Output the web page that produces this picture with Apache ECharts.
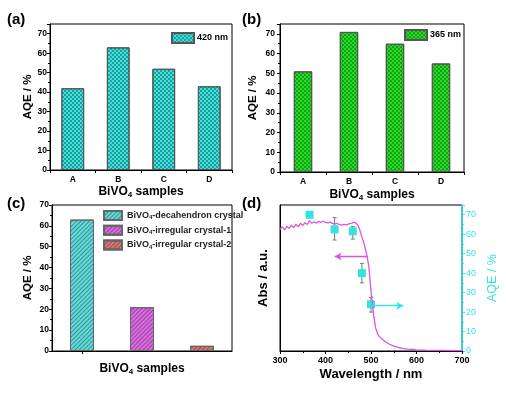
<!DOCTYPE html>
<html>
<head>
<meta charset="utf-8">
<script src="https://cdn.jsdelivr.net/npm/echarts@6/dist/echarts.min.js"></script>
<style>
html,body{margin:0;padding:0;background:#fff}
#main{width:506px;height:396px}
</style>
</head>
<body>
<div id="main"></div>
<script>
// panel a / b : AQE of samples A-D
var samples = ['A', 'B', 'C', 'D'];
var aqe420 = [42, 63, 52, 43];
var aqe365 = [51, 71, 65, 55];
// panel c
var crystalNames = ['BiVO4-decahendron crystal', 'BiVO4-irregular crystal-1', 'BiVO4-irregular crystal-2'];
var crystalAqe = [63, 21, 2.5];
// panel d : absorption spectrum (left, a.u.) and AQE points (right, %)
var absWl = [300,305,310,315,320,325,330,335,340,345,350,355,360,365,370,375,380,385,390,395,400,405,410,415,420,425,430,435,440,445,450,455,460,465,470,475,480,485,490,495,500,505,510,515,520,525,530,540,550,560,570,580,590,600,620,640,660,680,700];
var absVal = [62.5,63.8,62.2,64.0,63.0,64.6,63.4,65.2,63.8,65.6,64.4,65.9,65.0,67.0,65.6,66.4,65.7,66.6,66.0,66.8,66.1,65.8,66.2,65.6,65.2,65.6,65.0,64.7,65.0,64.8,65.2,65.5,65.9,66.0,65.0,62.5,58.5,55.0,50.0,44.0,31.0,20.0,12.0,8.5,7.0,6.0,5.0,3.6,2.5,1.8,1.3,1.0,0.8,0.6,0.4,0.3,0.3,0.2,0.2];
var aqeWl = [365, 420, 460, 480, 500];
var aqeVal = [70, 62.5, 61.5, 40, 24];
var aqeLow = [68.5, 57, 57.5, 35, 20];
var aqeHigh = [71.5, 68.5, 64, 45, 27.5];
var arrowAbs = [[493, 48.5], [420, 48.5]];
var arrowAqe = [[502, 23.3], [571, 23.3]];

var FONT = 'Liberation Sans';
var CYAN = '#33e3e3';
var subRich = {
    s: { fontSize: 8, fontWeight: 'bold', fontFamily: FONT, color: '#000', padding: [7, 0, 0, 0] }
};
function nameStyle(size, color) {
    return { fontSize: size, fontWeight: 'bold', fontFamily: FONT, color: color || '#000', rich: subRich };
}
var tickLabel = { fontSize: 8.5, fontWeight: 'bold', fontFamily: FONT, color: '#000' };
var titleFont = { fontSize: 15, fontWeight: 'bold', fontFamily: FONT, color: '#000' };

var checkerA = { symbol: 'rect', symbolSize: 1, dashArrayX: [[2, 2], [0, 2, 2, 0]], dashArrayY: [2, 0], color: 'rgba(0,80,80,0.45)' };
var checkerB = { symbol: 'rect', symbolSize: 1, dashArrayX: [[2, 2], [0, 2, 2, 0]], dashArrayY: [2, 0], color: 'rgba(0,70,0,0.4)' };
var stripes = { symbol: 'rect', symbolSize: 1, dashArrayX: [1, 0], dashArrayY: [1, 2], rotation: -Math.PI / 4, color: 'rgba(60,60,60,0.5)' };

var crystalColors = ['#5cdcdc', '#e066e8', '#e07474'];
var crystalSeries = crystalNames.map(function (n, i) {
    var d = crystalAqe.map(function (v, j) { return j === i ? v : '-'; });
    return {
        name: n, type: 'bar', xAxisIndex: 2, yAxisIndex: 2, stack: 'c', barWidth: '40%',
        itemStyle: { color: crystalColors[i], borderColor: '#666', borderWidth: 1, decal: stripes },
        data: d
    };
});

function catAxis(grid, data, nameGap, showLabel) {
    return {
        type: 'category', gridIndex: grid, data: data,
        name: 'BiVO{s|4} samples', nameLocation: 'middle', nameGap: nameGap,
        nameTextStyle: nameStyle(12),
        axisLine: { lineStyle: { color: '#000' } },
        axisTick: { show: true, length: 3, alignWithLabel: !showLabel, lineStyle: { color: '#000' } },
        axisLabel: { show: showLabel, margin: 5, textStyle: tickLabel }
    };
}
function aqeAxis(grid, max, nameGap, margin) {
    return {
        type: 'value', gridIndex: grid, min: 0, max: max, interval: 10,
        name: 'AQE / %', nameLocation: 'middle', nameGap: nameGap,
        nameTextStyle: nameStyle(11.5),
        axisLine: { show: true, lineStyle: { color: '#000' } },
        axisTick: { show: true, length: 3, lineStyle: { color: '#000' } },
        minorTick: { show: true, splitNumber: 2, length: 2, lineStyle: { color: '#000' } },
        axisLabel: { margin: margin, showMaxLabel: max === 70, fontSize: 8.5, fontWeight: 'bold', fontFamily: FONT, color: '#000' },
        splitLine: { show: false }
    };
}

var mychart = echarts.init(document.getElementById('main'));

var option = {
    backgroundColor: '#fff',
    animation: false,
    title: [
        { text: '(a)', left: 7, top: 12, padding: 0, textStyle: titleFont },
        { text: '(b)', left: 242, top: 12, padding: 0, textStyle: titleFont },
        { text: '(c)', left: 7, top: 196, padding: 0, textStyle: titleFont },
        { text: '(d)', left: 242, top: 196, padding: 0, textStyle: titleFont }
    ],
    legend: [
        { data: ['420 nm'], left: 171, top: 32, padding: 0, icon: 'rect', itemWidth: 22, itemHeight: 10,
          textStyle: { fontSize: 9, fontWeight: 'bold', fontFamily: FONT, color: '#000', padding: [0, 0, 0, -2] } },
        { data: ['365 nm'], left: 404, top: 29, padding: 0, icon: 'rect', itemWidth: 22, itemHeight: 10,
          textStyle: { fontSize: 9, fontWeight: 'bold', fontFamily: FONT, color: '#000', padding: [0, 0, 0, -2] } },
        { data: crystalNames, orient: 'vertical', left: 103, top: 210, padding: 0, icon: 'rect',
          itemWidth: 18, itemHeight: 9, itemGap: 3.7,
          formatter: function (n) { return n.replace('BiVO4', 'BiVO{s|4}'); },
          textStyle: { fontSize: 9, fontWeight: 'bold', fontFamily: FONT, color: '#222',
              rich: { s: { fontSize: 6, fontWeight: 'bold', fontFamily: FONT, color: '#222', padding: [4, 0, 0, 0] } } } }
    ],
    grid: [
        { left: 50, top: 24, width: 182, height: 146, show: true, borderColor: '#000', borderWidth: 1, backgroundColor: 'transparent' },
        { left: 280, top: 24, width: 184, height: 148, show: true, borderColor: '#000', borderWidth: 1, backgroundColor: 'transparent' },
        { left: 52, top: 205, width: 180, height: 146, show: true, borderColor: '#000', borderWidth: 1, backgroundColor: 'transparent' },
        { left: 280, top: 205, width: 182, height: 146, show: true, borderColor: '#000', borderWidth: 1, backgroundColor: 'transparent' }
    ],
    xAxis: [
        catAxis(0, samples, 14, true),
        catAxis(1, samples, 15, true),
        catAxis(2, crystalNames, 10, false),
        {
            type: 'value', gridIndex: 3, min: 300, max: 700, interval: 100,
            name: 'Wavelength / nm', nameLocation: 'middle', nameGap: 17,
            nameTextStyle: nameStyle(13),
            axisLine: { lineStyle: { color: '#000' } },
            axisTick: { show: true, length: 3, lineStyle: { color: '#000' } },
            minorTick: { show: true, splitNumber: 2, length: 2, lineStyle: { color: '#000' } },
            axisLabel: { margin: 5, fontSize: 9, fontWeight: 'bold', fontFamily: FONT, color: '#000' },
            splitLine: { show: false }
        }
    ],
    yAxis: [
        aqeAxis(0, 75, 16, 3),
        aqeAxis(1, 75, 21, 5),
        aqeAxis(2, 70, 18, 3),
        {
            type: 'value', gridIndex: 3, min: 0, max: 75, interval: 10,
            name: 'Abs / a.u.', nameLocation: 'middle', nameGap: 10,
            nameTextStyle: nameStyle(13),
            axisLine: { show: true, lineStyle: { color: '#000' } },
            axisTick: { show: false }, axisLabel: { show: false }, splitLine: { show: false }
        },
        {
            type: 'value', gridIndex: 3, position: 'right', min: 0, max: 75, interval: 10,
            name: 'AQE / %', nameLocation: 'middle', nameGap: 24, nameRotate: 90,
            nameTextStyle: { fontSize: 12.5, fontFamily: FONT, color: CYAN },
            axisLine: { show: true, lineStyle: { color: CYAN, width: 1.5 } },
            axisTick: { show: true, length: 3, lineStyle: { color: CYAN } },
            minorTick: { show: true, splitNumber: 2, length: 2, lineStyle: { color: CYAN } },
            axisLabel: { margin: 4, showMaxLabel: false, fontSize: 9, fontFamily: FONT, color: CYAN },
            splitLine: { show: false }
        }
    ],
    series: [
        {
            name: '420 nm', type: 'bar', xAxisIndex: 0, yAxisIndex: 0, barWidth: '50%',
            itemStyle: { color: '#3fe0da', borderColor: '#555', borderWidth: 1, decal: checkerA },
            data: aqe420
        },
        {
            name: '365 nm', type: 'bar', xAxisIndex: 1, yAxisIndex: 1, barWidth: '40%',
            itemStyle: { color: '#24dd24', borderColor: '#555', borderWidth: 1, decal: checkerB },
            data: aqe365
        }
    ].concat(crystalSeries).concat([
        {
            name: 'abs', type: 'line', xAxisIndex: 3, yAxisIndex: 3, showSymbol: false,
            lineStyle: { color: '#dd55dd', width: 1.3 },
            data: absWl.map(function (w, i) { return [w, absVal[i]]; }),
            markLine: {
                silent: true, symbol: ['none', 'arrow'], symbolSize: [6, 7],
                label: { show: false },
                lineStyle: { color: '#dd55dd', type: 'solid', width: 1.3 },
                data: [[{ coord: arrowAbs[0] }, { coord: arrowAbs[1] }]]
            }
        },
        {
            name: 'err', type: 'custom', xAxisIndex: 3, yAxisIndex: 4,
            data: aqeWl.map(function (w, i) { return [w, aqeLow[i], aqeHigh[i]]; }),
            renderItem: function (params, api) {
                var lo = api.coord([api.value(0), api.value(1)]);
                var hi = api.coord([api.value(0), api.value(2)]);
                var st = { stroke: '#777', lineWidth: 1 };
                return { type: 'group', children: [
                    { type: 'line', shape: { x1: lo[0], y1: lo[1], x2: hi[0], y2: hi[1] }, style: st },
                    { type: 'line', shape: { x1: lo[0] - 2, y1: lo[1], x2: lo[0] + 2, y2: lo[1] }, style: st },
                    { type: 'line', shape: { x1: hi[0] - 2, y1: hi[1], x2: hi[0] + 2, y2: hi[1] }, style: st }
                ] };
            }
        },
        {
            name: 'aqe', type: 'scatter', xAxisIndex: 3, yAxisIndex: 4, symbol: 'rect', symbolSize: 8,
            itemStyle: { color: CYAN, opacity: 1 },
            data: aqeWl.map(function (w, i) { return [w, aqeVal[i]]; }),
            markLine: {
                silent: true, symbol: ['none', 'arrow'], symbolSize: [6, 7],
                label: { show: false },
                lineStyle: { color: CYAN, type: 'solid', width: 1.3 },
                data: [[{ coord: arrowAqe[0] }, { coord: arrowAqe[1] }]]
            }
        }
    ])
};
mychart.setOption(option);
</script>
</body>
</html>
